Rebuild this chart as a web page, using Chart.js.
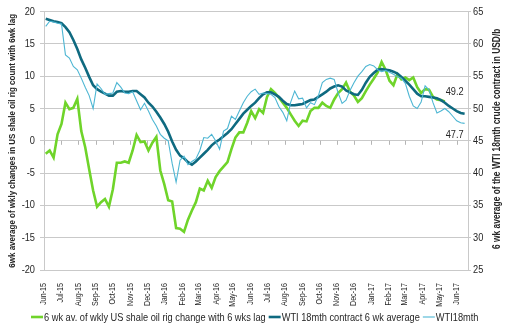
<!DOCTYPE html>
<html><head><meta charset="utf-8">
<script src="https://cdn.jsdelivr.net/npm/chart.js@4/dist/chart.umd.min.js"></script>
<style>html,body{margin:0;padding:0;background:#fff}#wrap{width:510px;height:333px}</style>
</head><body><div id="wrap"><canvas id="c" width="510" height="333"></canvas></div>
<script>
// ---- data ----
const AXIS_START = '2015-06-01';
const AXIS_END = '2017-06-21';
const FIRST_WEEK = '2015-06-04';
const monthLabels = ['Jun-15','Jul-15','Aug-15','Sep-15','Oct-15','Nov-15','Dec-15','Jan-16','Feb-16','Mar-16','Apr-16','May-16','Jun-16','Jul-16','Aug-16','Sep-16','Oct-16','Nov-16','Dec-16','Jan-17','Feb-17','Mar-17','Apr-17','May-17','Jun-17'];
const seriesNames = ['6 wk av. of wkly US shale oil rig change with 6 wks lag','WTI 18mth contract 6 wk average','WTI18mth'];
const rigChange = [-2.0,-1.5,-2.6,1.0,2.6,5.9,4.9,5.1,6.5,1.5,
 -1.0,-4.4,-7.7,-10.2,-9.5,-9.0,-10.2,-7.5,-3.4,-3.4,
 -3.2,-3.4,-1.5,0.9,-0.2,-0.1,-1.5,-0.3,0.6,-4.6,
 -6.7,-9.2,-9.4,-13.5,-13.6,-14.1,-12.2,-10.8,-9.5,-7.4,
 -7.7,-6.2,-7.3,-5.6,-4.7,-4.0,-3.3,-1.3,0.5,1.3,
 1.3,2.8,4.6,3.5,4.9,4.3,6.8,8.0,7.4,6.7,
 5.9,5.1,4.1,3.1,2.3,3.1,3.0,4.6,5.1,5.1,
 5.9,5.4,5.1,6.4,7.4,8.0,9.0,7.6,7.0,6.0,
 6.6,7.7,8.7,9.6,10.6,12.2,11.0,9.3,8.6,10.3,
 9.5,9.8,9.4,9.8,8.3,7.4,8.0,7.9,6.8,6.4,
 6.3,6.1];
const wtiAvg = [63.9,63.7,63.5,63.4,63.2,62.6,61.8,60.6,59.2,57.6,
 56.3,54.9,53.6,53.0,52.6,52.3,52.0,52.0,52.6,52.7,
 52.6,52.6,52.7,52.7,52.2,51.7,50.9,50.3,49.5,48.6,
 47.6,46.4,44.9,43.6,42.7,42.3,41.7,41.3,41.8,42.4,
 43.0,43.6,44.3,44.8,45.2,45.7,46.2,46.8,47.6,48.4,
 49.2,49.8,50.4,50.9,51.6,52.2,52.5,52.5,52.2,51.8,
 51.2,50.7,50.5,50.5,50.6,50.7,51.0,51.3,51.4,51.8,
 52.2,52.6,53.1,53.4,53.6,53.4,52.8,52.5,52.2,52.1,
 52.9,54.0,54.9,55.5,56.0,56.1,56.0,55.9,55.7,55.4,
 54.9,54.3,53.7,53.0,52.3,51.9,51.9,51.8,51.7,51.6,
 51.3,50.9,50.4,50.0,49.6,49.3,49.2];
const wti = [62.7,63.5,63.4,63.2,63.1,58.3,57.8,56.5,56.0,54.7,
 53.3,52.0,50.0,53.8,53.1,52.2,52.3,52.4,54.0,53.3,
 52.4,52.3,52.6,51.2,49.8,50.8,49.6,48.3,47.3,46.0,
 45.4,45.0,41.5,38.6,42.0,42.6,41.3,41.8,42.2,43.5,
 45.5,45.4,46.0,45.0,43.7,46.5,46.9,48.8,48.3,49.6,
 50.9,51.9,52.6,53.0,52.2,52.4,52.3,52.2,51.7,50.3,
 49.4,48.1,51.0,52.7,51.5,51.6,50.1,50.9,50.6,52.0,
 54.0,54.5,54.7,54.5,52.4,50.8,51.3,52.8,54.0,55.0,
 55.7,56.5,56.8,56.6,56.0,55.7,55.9,55.6,55.3,54.9,
 54.7,53.9,51.9,50.4,50.0,51.0,53.5,52.9,50.9,49.3,
 49.6,50.0,49.5,48.8,48.1,47.8,47.7];
const leftRange = [-20, 20];
const rightRange = [25, 65];
const tickStep = 5;
const endLabels = ['49.2', '47.7'];
const leftTitle = '6wk average of wkly changes in US shale oil rig count with 6wk lag';
const rightTitle = '6 wk average of the WTI 18mth crude contract in USD/b';

// ---- narrow text rendering (reference uses a condensed sans face) ----
const CONDENSE = 0.84;
(function () {
  const P = CanvasRenderingContext2D.prototype;
  const fill = P.fillText, measure = P.measureText;
  P.fillText = function (text, x, y, maxWidth) {
    this.save(); this.translate(x, y); this.scale(CONDENSE, 1);
    if (maxWidth != null) fill.call(this, text, 0, 0, maxWidth / CONDENSE); else fill.call(this, text, 0, 0);
    this.restore();
  };
  P.measureText = function (text) {
    const m = measure.call(this, text);
    return { width: m.width * CONDENSE, actualBoundingBoxAscent: m.actualBoundingBoxAscent, actualBoundingBoxDescent: m.actualBoundingBoxDescent,
      actualBoundingBoxLeft: m.actualBoundingBoxLeft * CONDENSE, actualBoundingBoxRight: m.actualBoundingBoxRight * CONDENSE };
  };
})();

// ---- helpers ----
const MONTHS = ['Jan','Feb','Mar','Apr','May','Jun','Jul','Aug','Sep','Oct','Nov','Dec'];
const DAY = 86400000;
const t0 = Date.parse(AXIS_START);
const dayOf = ms => (ms - t0) / DAY;
const monthDays = monthLabels.map(l => { const [m, y] = l.split('-'); return dayOf(Date.UTC(2000 + Number(y), MONTHS.indexOf(m), 1)); });
const firstDay = dayOf(Date.parse(FIRST_WEEK));
const toPts = arr => arr.map((v, i) => ({ x: firstDay + 7 * i, y: v }));

const FONT = "'Liberation Sans',Arial,sans-serif";
Chart.defaults.font.family = FONT;
Chart.defaults.font.size = 11;
Chart.defaults.color = '#262626';
const GRID = '#c9c9c9';
const TEXT = '#262626';

const extras = {
  id: 'extras',
  beforeDatasetsDraw(chart) {
    const { ctx } = chart; const xs = chart.scales.x; const y0 = chart.scales.y.getPixelForValue(0);
    ctx.save(); ctx.strokeStyle = '#b5b5b5'; ctx.lineWidth = 1;
    xs.ticks.forEach(t => { const px = Math.round(xs.getPixelForValue(t.value)) + 0.5; ctx.beginPath(); ctx.moveTo(px, y0); ctx.lineTo(px, y0 + 4); ctx.stroke(); });
    ctx.restore();
  },
  afterDraw(chart) {
    const { ctx, chartArea } = chart;
    // right axis title (reads bottom-to-top like the reference)
    ctx.save();
    ctx.fillStyle = TEXT;
    ctx.font = 'bold 10px ' + FONT;
    ctx.translate(497, (chartArea.top + chartArea.bottom) / 2 - 2);
    ctx.rotate(-Math.PI / 2);
    ctx.textAlign = 'center'; ctx.textBaseline = 'middle';
    ctx.fillText(rightTitle, 0, 0);
    ctx.restore();
    // end-value labels
    ctx.save();
    ctx.font = '11px ' + FONT; ctx.fillStyle = TEXT; ctx.textAlign = 'right'; ctx.textBaseline = 'middle';
    const m1 = chart.getDatasetMeta(1).data; const m2 = chart.getDatasetMeta(2).data;
    const p1 = m1[m1.length - 1], p2 = m2[m2.length - 1];
    ctx.fillText(endLabels[0], p1.x - 1, p1.y - 22);
    ctx.fillText(endLabels[1], p2.x - 1, p2.y + 12);
    ctx.restore();
    // compact legend
    ctx.save();
    ctx.font = '11px ' + FONT; ctx.textBaseline = 'middle'; ctx.textAlign = 'left';
    const ds = chart.data.datasets;
    const LINE = 12, GAP = 1, SEP = 3;
    const widths = ds.map(d => ctx.measureText(d.label).width);
    const total = widths.reduce((s, w) => s + LINE + GAP + w, 0) + SEP * (ds.length - 1);
    let x = Math.round((chart.width - total) / 2);
    const y = 317;
    ds.forEach((d, i) => {
      ctx.strokeStyle = d.borderColor; ctx.lineWidth = d.borderWidth;
      ctx.beginPath(); ctx.moveTo(x, y); ctx.lineTo(x + LINE, y); ctx.stroke();
      ctx.fillStyle = TEXT; ctx.fillText(d.label, x + LINE + GAP, y + 0.5);
      x += LINE + GAP + widths[i] + SEP;
    });
    ctx.restore();
  }
};

new Chart(document.getElementById('c'), {
  type: 'line',
  data: {
    datasets: [
      { label: seriesNames[0], data: toPts(rigChange), yAxisID: 'y', borderColor: '#6fd42a', backgroundColor: '#6fd42a', borderWidth: 2.6, pointRadius: 0, order: 3 },
      { label: seriesNames[1], data: toPts(wtiAvg), yAxisID: 'y2', borderColor: '#0f6a80', backgroundColor: '#0f6a80', borderWidth: 2.6, pointRadius: 0, order: 2 },
      { label: seriesNames[2], data: toPts(wti), yAxisID: 'y2', borderColor: '#4db6d3', backgroundColor: '#4db6d3', borderWidth: 1.1, pointRadius: 0, order: 1 }
    ]
  },
  options: {
    responsive: false, animation: false, devicePixelRatio: 1,
    layout: { padding: { top: 10, left: 0, right: 0, bottom: 31 } },
    plugins: { tooltip: { enabled: false }, legend: { display: false } },
    scales: {
      x: {
        type: 'linear', position: 'bottom', min: 0, max: dayOf(Date.parse(AXIS_END)),
        grid: { display: false }, border: { display: false },
        afterBuildTicks: s => { s.ticks = monthDays.map(v => ({ value: v })); },
        afterFit: s => { s.height = 32; s._computeLabelArea = () => undefined; },
        ticks: { autoSkip: false, minRotation: 90, maxRotation: 90, padding: 5, font: { size: 8.5 }, callback: (v, i) => monthLabels[i] }
      },
      y: {
        position: 'left', min: leftRange[0], max: leftRange[1],
        ticks: { stepSize: tickStep, padding: 5 },
        grid: { color: GRID, tickLength: 4 }, border: { color: GRID },
        afterFit: s => { s.width = 44; },
        title: { display: true, text: leftTitle, font: { size: 9.5, weight: 'bold' }, padding: { top: 7, bottom: 0 } }
      },
      y2: {
        position: 'right', min: rightRange[0], max: rightRange[1],
        ticks: { stepSize: tickStep, padding: 2 },
        grid: { drawOnChartArea: false, color: GRID, tickLength: 3 }, border: { color: GRID },
        afterFit: s => { s.width = 42; }
      }
    }
  },
  plugins: [extras]
});
</script></body></html>
